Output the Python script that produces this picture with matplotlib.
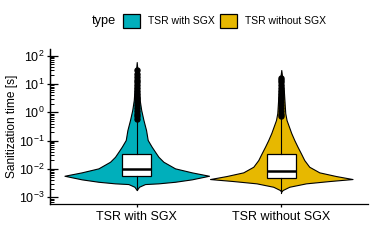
"""Violin + box plot of sanitization time, TSR with / without SGX (log y axis)."""

import matplotlib as mpl
import matplotlib.pyplot as plt
import numpy as np
from matplotlib.patches import Patch
from matplotlib.ticker import FixedLocator, NullFormatter

CATEGORIES = ["TSR with SGX", "TSR without SGX"]
COLORS = ["#00AFBB", "#E7B800"]
DECADES = [1e-3, 1e-2, 1e-1, 1e0, 1e1, 1e2]

# Violin outlines: log10(seconds) and relative density.
SGX_LOG10 = [1.77, 1.136, 0.43, 0.078, -0.275, -0.628, -0.98, -1.217, -1.393, -1.57,
             -1.746, -1.979, -2.12, -2.24, -2.367, -2.452, -2.508, -2.533, -2.628, -2.744]
SGX_DENSITY = [0.0, 0.021, 0.041, 0.062, 0.093, 0.129, 0.152, 0.207, 0.253, 0.300,
               0.369, 0.530, 0.761, 1.0, 0.761, 0.530, 0.300, 0.115, 0.032, 0.0]

NOSGX_LOG10 = [1.49, 1.21, 0.78, -0.03, -0.275, -0.734, -0.98, -1.217, -1.45, -1.686,
               -1.922, -2.12, -2.25, -2.356, -2.427, -2.508, -2.628, -2.744, -2.804]
NOSGX_DENSITY = [0.0, 0.014, 0.035, 0.055, 0.073, 0.138, 0.180, 0.225, 0.272, 0.318,
                 0.387, 0.526, 0.757, 0.986, 0.664, 0.342, 0.111, 0.018, 0.0]

# Box statistics (log10 seconds): whisker low, Q1, median, Q3, whisker high.
SGX_BOX = [-2.744, -2.25, -2.014, -1.474, -0.31]
NOSGX_BOX = [-2.84, -2.32, -2.056, -1.474, -0.2]

# Outliers (log10 seconds) above the upper whisker.
SGX_OUTLIERS = [-0.25, -0.15, -0.05, 0.05, 0.15, 0.25, 0.35, 0.45, 0.55, 0.65,
                0.75, 0.85, 0.95, 1.05, 1.15, 1.25, 1.35, 1.49]
NOSGX_OUTLIERS = [-0.15, -0.05, 0.05, 0.15, 0.25, 0.35, 0.45, 0.55, 0.65, 0.75,
                  0.85, 0.95, 1.05, 1.15, 1.21]

mpl.rcParams.update({
    "font.family": ["Liberation Sans", "DejaVu Sans"],
    "axes.linewidth": 0.9,
    "xtick.major.width": 0.9,
    "ytick.major.width": 0.9,
    "ytick.minor.width": 0.7,
})

fig = plt.figure(figsize=(3.74, 2.43), dpi=100)
ax = fig.add_axes([50 / 374, 1 - 204 / 243, 318 / 374, 155 / 243])
ax.set_yscale("log")

violins = [(SGX_LOG10, SGX_DENSITY), (NOSGX_LOG10, NOSGX_DENSITY)]
boxes = [SGX_BOX, NOSGX_BOX]
outliers = [SGX_OUTLIERS, NOSGX_OUTLIERS]

stats = []
for i, ((ly, dens), color) in enumerate(zip(violins, COLORS)):
    y = 10 ** np.asarray(ly)
    hw = 0.5 * np.asarray(dens)
    ax.fill_betweenx(y, i - hw, i + hw, facecolor=color, edgecolor="black",
                     linewidth=0.8, zorder=1)
    lo, q1, med, q3, hi = (10 ** v for v in boxes[i])
    stats.append(dict(whislo=lo, q1=q1, med=med, q3=q3, whishi=hi,
                      fliers=10 ** np.asarray(outliers[i])))

ax.bxp(stats, positions=[0, 1], widths=0.2, patch_artist=True, showcaps=False,
       boxprops=dict(facecolor="white", edgecolor="black", linewidth=0.9),
       medianprops=dict(color="black", linewidth=1.8),
       whiskerprops=dict(color="black", linewidth=0.8),
       flierprops=dict(marker="o", markerfacecolor="black", markeredgecolor="black",
                       markersize=3.6),
       zorder=2)

ax.set_xlim(-0.6, 1.6)
ax.set_ylim(10 ** -3.236, 10 ** 2.23)
ax.set_xticks([0, 1])
ax.set_xticklabels(CATEGORIES, fontsize=9)
ax.tick_params(axis="x", direction="out", length=2.4, pad=2.5)

ax.spines["top"].set_visible(False)
ax.spines["right"].set_visible(False)

# minor log ticks between decades (2..9 of each), inside the panel
minor = [m * d for d in [1e-4] + DECADES for m in range(2, 10)]
minor = [v for v in minor if 10 ** -3.236 <= v <= 10 ** 2.23]

ax.yaxis.set_major_locator(FixedLocator(DECADES))
ax.yaxis.set_minor_locator(FixedLocator(minor))
ax.yaxis.set_minor_formatter(NullFormatter())
ax.tick_params(axis="y", which="major", direction="in", length=5.8, labelleft=False)
ax.tick_params(axis="y", which="minor", direction="in", length=2.8)

# outer ticks and labels on a secondary axis sharing the scale
sec = ax.secondary_yaxis("left")
sec.set_yscale("log")
sec.yaxis.set_major_locator(FixedLocator(DECADES))
sec.yaxis.set_minor_locator(FixedLocator([]))
sec.tick_params(axis="y", which="major", direction="out", length=2.2, pad=2, labelsize=9)
sec.spines["left"].set_linewidth(0.9)

ax.set_ylabel("Sanitization time [s]", fontsize=8.6)
ax.yaxis.set_label_coords(-0.1, 0.5)

handles = [Patch(facecolor=c, edgecolor="black", linewidth=0.9, label=l)
           for c, l in zip(COLORS, CATEGORIES)]
fig.legend(handles=handles, loc="center left", bbox_to_anchor=(118 / 374, 1 - 21 / 243),
           ncol=2, frameon=False, fontsize=7.5, handlelength=1.6, handleheight=1.6,
           handletextpad=0.75, columnspacing=0.55, borderpad=0)
fig.text(116 / 374, 1 - 21 / 243, "type", ha="right", va="center", fontsize=9.2)

fig.savefig("out.png", dpi=100)
